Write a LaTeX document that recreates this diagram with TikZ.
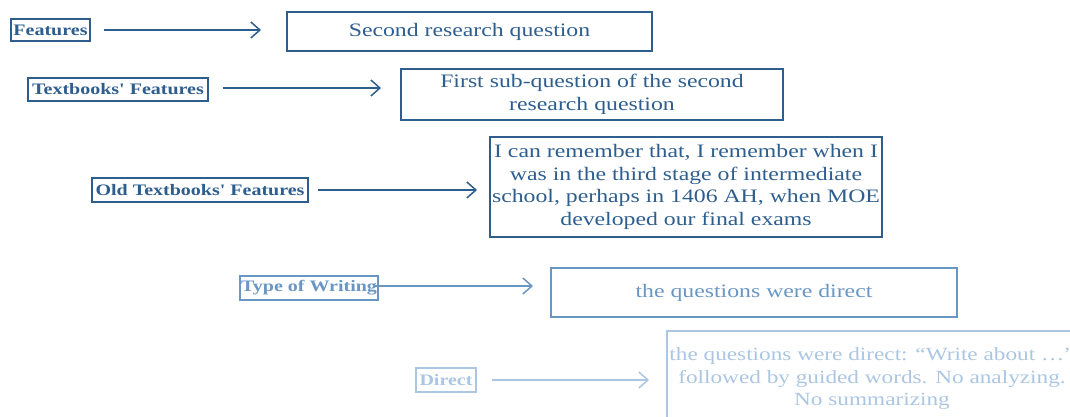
\documentclass[tikz,border=0pt]{standalone}
\usepackage{fontspec}
\setmainfont[FakeStretch=1.25, Ligatures=TeXOff]{Liberation Serif}
\usetikzlibrary{arrows.meta}
\definecolor{cA}{HTML}{2E5E8E}
\definecolor{cB}{HTML}{6A96C3}
\definecolor{cC}{HTML}{ABC6E2}
\tikzset{
  lbl/.style={draw, line width=1.2pt, font=\bfseries\fontsize{16}{18}\selectfont, inner sep=0pt, align=center},
  qbox/.style={draw, line width=2pt, font=\fontsize{19}{22.5}\selectfont, inner sep=0pt, align=center},
  conn/.style={line width=1.5pt, -{Straight Barb[length=9pt,width=16pt,line width=1.5pt]}},
}
\begin{document}
\begin{tikzpicture}[x=1pt,y=-1pt]
\useasboundingbox (0,0) rectangle (1070,416);
% row 1
\node[lbl, cA, minimum width=79pt, minimum height=22pt] (f1) at (50.5,30) {Features};
\node[qbox, cA, minimum width=365pt, minimum height=39pt] (q1) at (469.5,31.5) {Second research question};
\draw[conn, cA, shorten <=13pt, shorten >=25pt] (f1) -- (f1 -| q1.west);
% row 2
\node[lbl, cA, minimum width=180pt, minimum height=23pt] (f2) at (118,89.5) {Textbooks' Features};
\node[qbox, cA, minimum width=382pt, minimum height=51pt] (q2) at (592,94.5) {First sub-question of the second\\research question};
\draw[conn, cA, shorten <=14pt, shorten >=19pt] ([yshift=1.5pt]f2.east) -- ([yshift=1.5pt]f2.east -| q2.west);
% row 3
\node[lbl, cA, minimum width=216pt, minimum height=24pt] (f3) at (200,190) {Old Textbooks' Features};
\node[qbox, cA, minimum width=392pt, minimum height=100pt] (q3) at (686,187) {\rule{0pt}{4pt}I can remember that, I remember when I\\was in the third stage of intermediate\\school, perhaps in 1406 AH, when MOE\\developed our final exams};
\draw[conn, cA, shorten <=9pt, shorten >=12pt] (f3) -- (f3 -| q3.west);
% row 4
\node[lbl, cB, minimum width=138pt, minimum height=24pt] (f4) at (309,288) {Type of Writing};
\node[qbox, cB, minimum width=406pt, minimum height=49pt] (q4) at (754,292.5) {the questions were direct};
\draw[conn, cB, shorten <=-6pt, shorten >=17pt] ([yshift=2pt]f4.east) -- ([yshift=2pt]f4.east -| q4.west);
% row 5
\node[lbl, cC, minimum width=60pt, minimum height=24pt] (f5) at (446,380) {Direct};
\node[qbox, cC, font=\fontsize{18.6}{22.5}\selectfont, minimum width=410pt, minimum height=96pt] (q5) at (872,379) {the questions were direct: “Write about …”\\followed by guided words. No analyzing.\\No summarizing};
\draw[conn, cC, shorten <=15pt, shorten >=17pt] (f5) -- (f5 -| q5.west);
\end{tikzpicture}
\end{document}
